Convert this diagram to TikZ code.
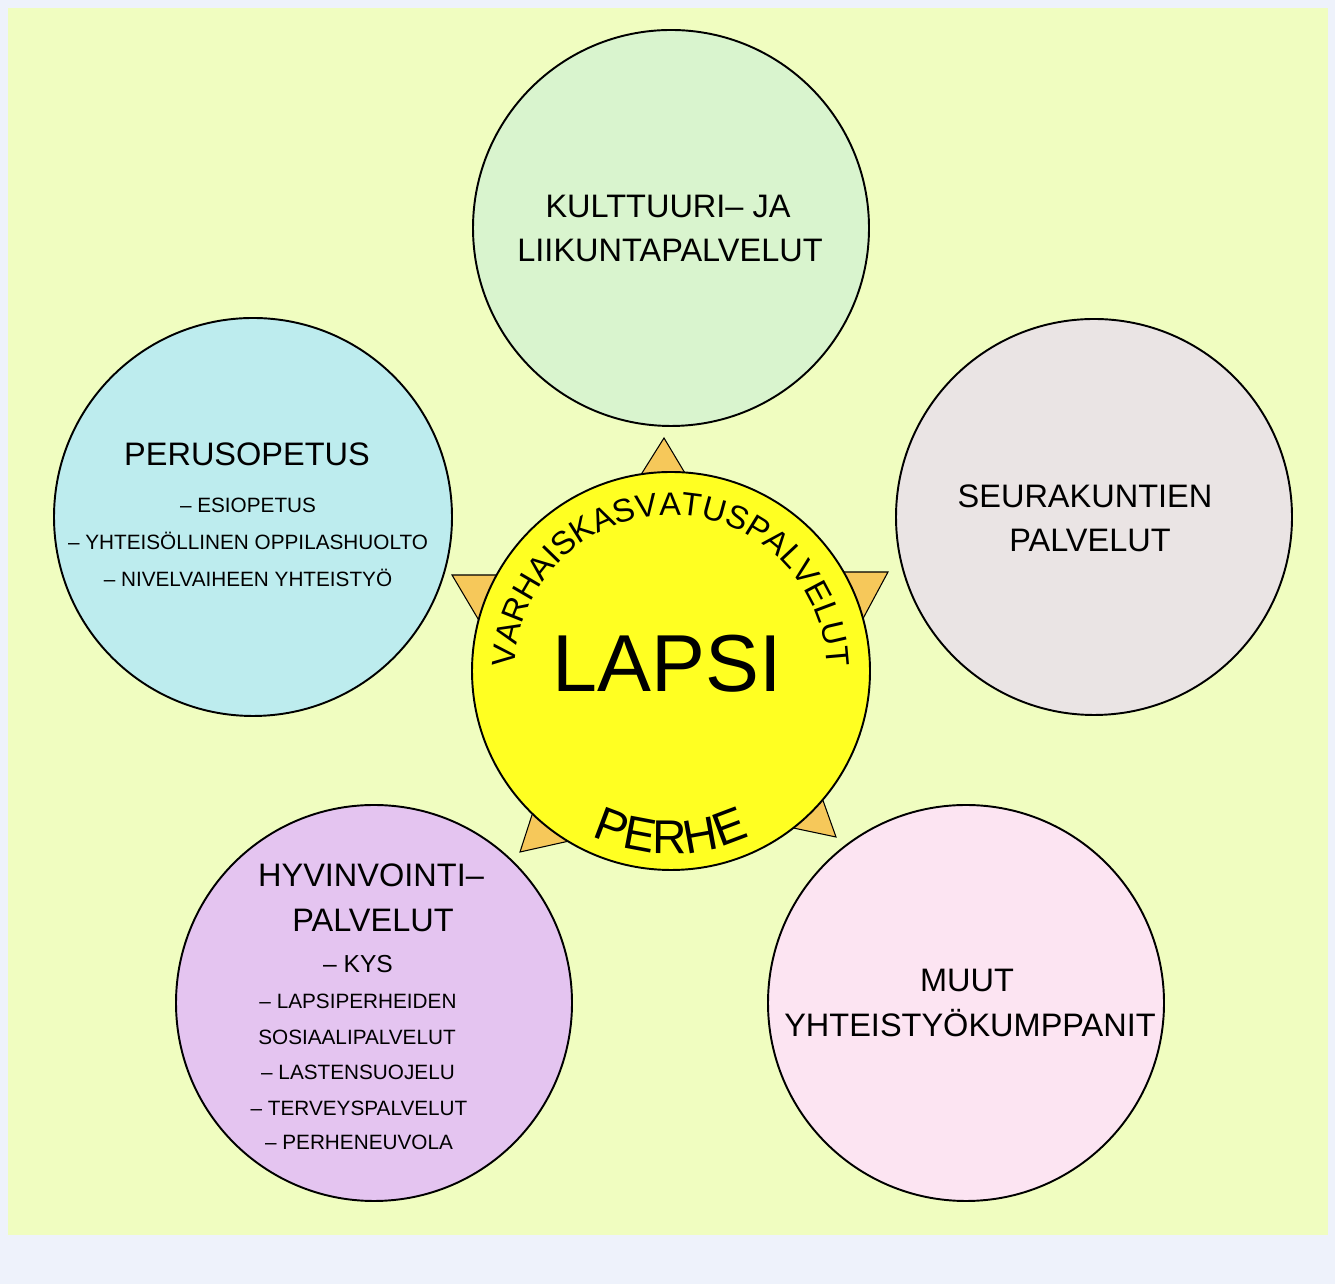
\documentclass[tikz,border=0pt]{standalone}
\usepackage{fontspec}
\setmainfont{Liberation Sans}
\usetikzlibrary{decorations.text}

\begin{document}
\begin{tikzpicture}
		[x=0.02cm,y=0.02cm,line cap=round,
		%Styles
		bubble/.style={draw=black,line width=1.1pt},
		heading/.style={anchor=base,font=\fontsize{18.5}{22}\selectfont},
		item/.style={anchor=base,font=\fontsize{11.8}{14}\selectfont},
		big/.style={anchor=base,font=\fontsize{46}{50}\selectfont}
		]
		
		%Colors
		\definecolor{outerbg}{RGB}{238,242,251}
		\definecolor{innerbg}{RGB}{240,253,192}
		\definecolor{kulttuuri}{RGB}{217,244,206}
		\definecolor{perusopetus}{RGB}{189,236,238}
		\definecolor{seurakunta}{RGB}{234,228,228}
		\definecolor{hyvinvointi}{RGB}{228,196,240}
		\definecolor{muut}{RGB}{252,228,242}
		\definecolor{lapsicolor}{RGB}{255,255,34}
		\definecolor{starfill}{RGB}{246,200,90}
		
		%Background
		\useasboundingbox (0,0) rectangle (1335,1284);
		\fill[outerbg] (0,0) rectangle (1335,1284);
		\fill[innerbg] (7.5,48.5) rectangle (1327.7,1276);
		
		%The bubbles
		\draw[bubble,fill=kulttuuri] (671,1056) circle (198);
		\draw[bubble,fill=perusopetus] (253,767) circle (199);
		\draw[bubble,fill=seurakunta] (1094,767) circle (198);
		\draw[bubble,fill=hyvinvointi] (374,281) circle (198);
		\draw[bubble,fill=muut] (966,281) circle (198);
		
		%The star and the child
		\draw[fill=starfill,line width=0.6pt,line join=miter]
			(664,846) -- (744,712) -- (888,712) -- (800,548) -- (836,447)
			-- (708,474) -- (520,432) -- (554,537) -- (452,709) -- (578,709) -- cycle;
		\draw[bubble,fill=lapsicolor] (671,613) circle (199);
		
		\path[decorate,decoration={text along path,text align=center,
			text={|\fontsize{18.5}{18.5}\selectfont|VARHAISKASVATUSPALVELUT}}]
			(515,613) arc[start angle=180,end angle=0,radius=156];
		\path[decorate,decoration={text along path,text align=center,
			text={|\fontsize{27}{27}\selectfont|PERHE}}]
			(521.1,508) arc[start angle=215,end angle=325,radius=183];
		\node[big] (lapsi) at (667,592) {LAPSI};
		
		%Texts
		\node[heading] (kultA) at (668,1066) {KULTTUURI– JA};
		\node[heading] (kultB) at (670,1022) {LIIKUNTAPALVELUT};
		
		\node[heading] (perus) at (247,818) {PERUSOPETUS};
		\node[item] (esio) at (248,771) {– ESIOPETUS};
		\node[item] (yhteis) at (248,734) {– YHTEISÖLLINEN OPPILASHUOLTO};
		\node[item] (nivel) at (248,697) {– NIVELVAIHEEN YHTEISTYÖ};
		
		\node[heading] (seuraA) at (1085,776) {SEURAKUNTIEN};
		\node[heading] (seuraB) at (1090,732) {PALVELUT};
		
		\node[heading] (hyvA) at (371,397) {HYVINVOINTI–};
		\node[heading] (hyvB) at (373,352) {PALVELUT};
		\node[item,font=\fontsize{14}{16}\selectfont] (kys) at (358,311) {– KYS};
		\node[item] (lapsiperh) at (358,275) {– LAPSIPERHEIDEN};
		\node[item] (sosiaali) at (357,239) {SOSIAALIPALVELUT};
		\node[item] (lasten) at (358,204) {– LASTENSUOJELU};
		\node[item] (terveys) at (359,168) {– TERVEYSPALVELUT};
		\node[item] (perheneu) at (359,134) {– PERHENEUVOLA};
		
		\node[heading] (muutA) at (967,292) {MUUT};
		\node[heading] (muutB) at (970,247) {YHTEISTYÖKUMPPANIT};
	\end{tikzpicture}
\end{document}
